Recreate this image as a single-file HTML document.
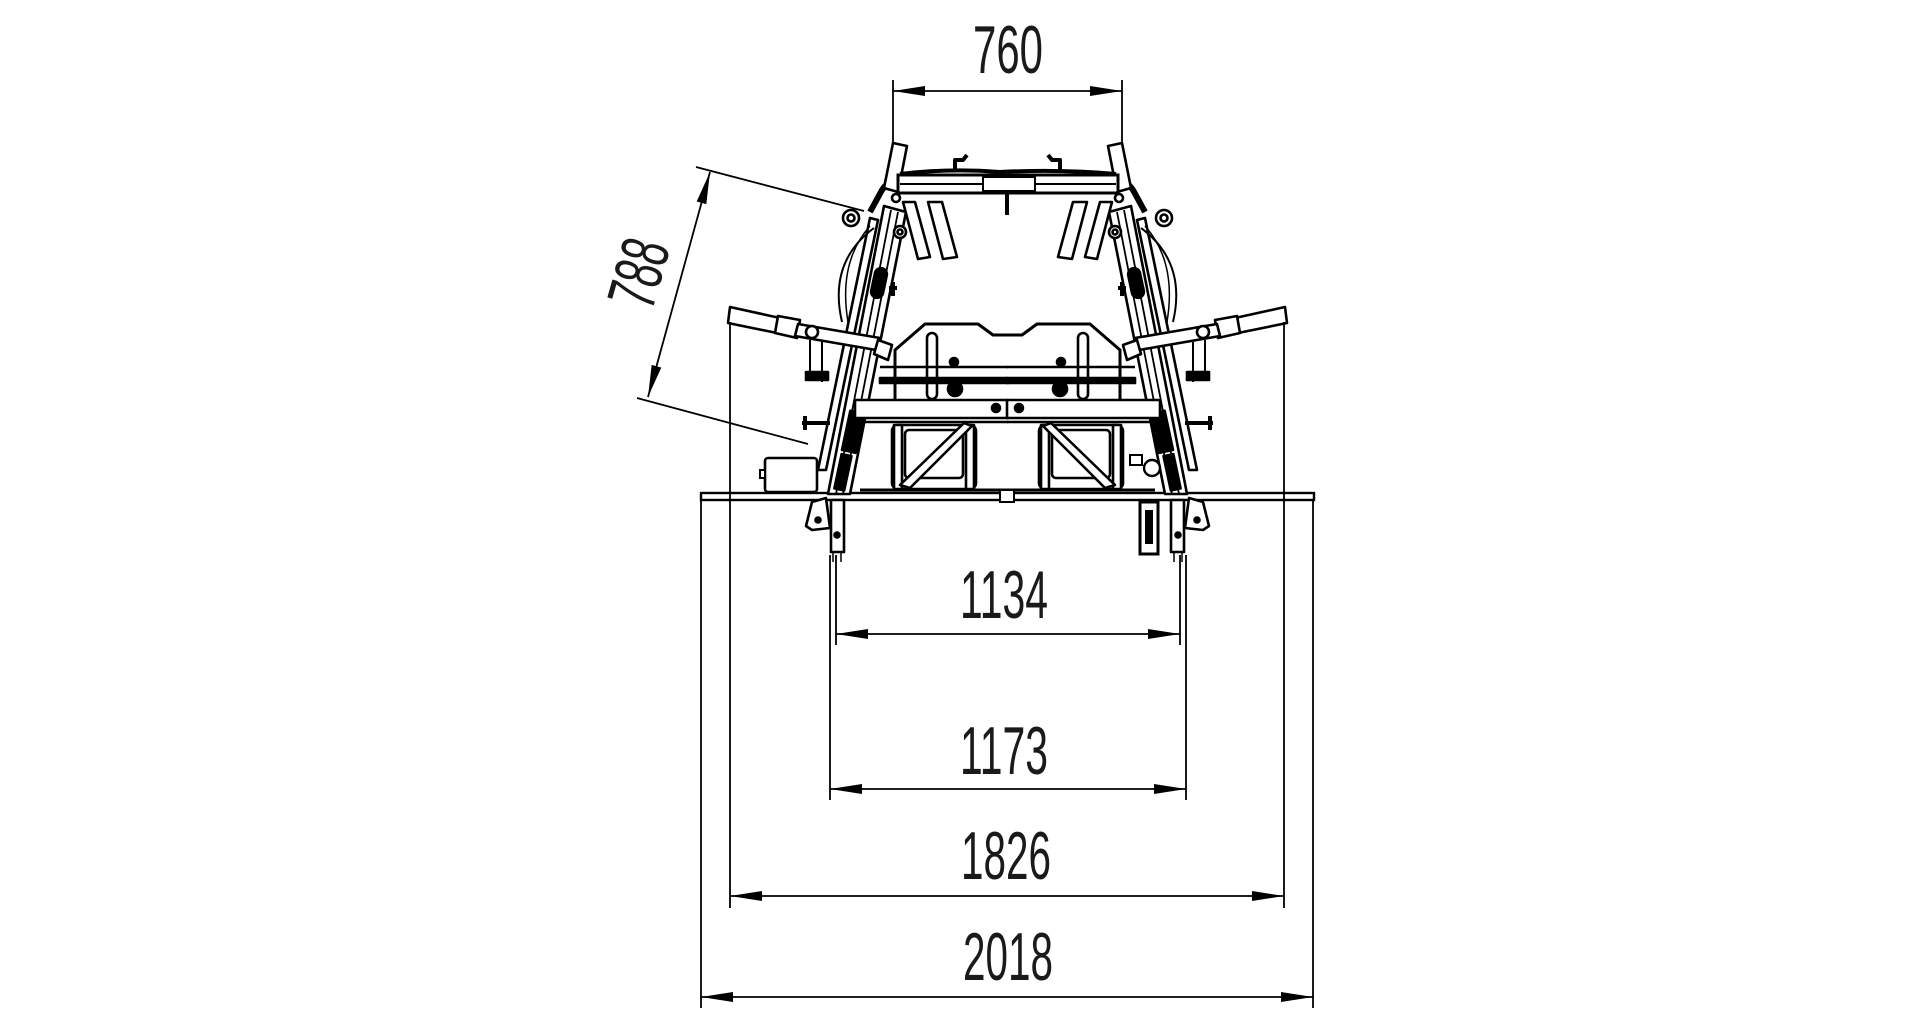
<!DOCTYPE html>
<html><head><meta charset="utf-8"><style>
html,body{margin:0;padding:0;background:#fff;}
svg{display:block;}
text{font-family:"Liberation Sans",sans-serif;fill:#1a1a1a;}
</style></head><body>
<svg width="1920" height="1024" viewBox="0 0 1920 1024" xmlns="http://www.w3.org/2000/svg">
<defs>
<g id="half" fill="#fff" stroke="#000" stroke-width="2.6" stroke-linejoin="round">
  <polygon points="828,494 850,494 906,212 884,206"/>
  <line x1="836" y1="494" x2="891" y2="210" stroke-width="1.8"/>
  <line x1="843" y1="494" x2="898" y2="212" stroke-width="1.8"/>
  <polygon points="818,470 826,470 878,220 870,218"/>
  <path d="M874,228 Q828,262 842,322" fill="none" stroke-width="2"/>
  <path d="M870,226 Q838,262 848,322" fill="none" stroke-width="1.5"/>
  <path d="M870,212 L882,190 Q892,176 904,176" fill="none" stroke-width="6"/>
  <polygon points="893,143 907,146 898,192 884,188"/>
  <rect x="873" y="268" width="12" height="30" rx="6" fill="#000" transform="rotate(12 879 283)"/>
  <rect x="846" y="412" width="14" height="40" fill="#000" transform="rotate(12 854 432)"/>
  <rect x="838" y="455" width="10" height="35" fill="#000" transform="rotate(12 844 472)"/>
  <circle cx="851" cy="218" r="8"/><circle cx="851" cy="218" r="3.5"/>
  <circle cx="900" cy="232" r="6"/><circle cx="900" cy="232" r="2.5"/>
  <circle cx="896" cy="198" r="4"/>
  <path d="M889,288 h8 M893,282 v14" stroke-width="4"/>
  <path d="M802,423 h28 M805,416 v14" stroke-width="4"/>
  <polygon points="903,202 915,202 930,257 918,259"/>
  <polygon points="928,202 942,202 957,257 943,259"/>
  <polygon points="730,307 780,318 777,333 728,323"/>
  <polygon points="778,316 800,320 797,338 775,333"/>
  <polygon points="798,324 880,338 876,350 795,336"/>
  <circle cx="812" cy="332" r="6"/>
  <path d="M810,340 v40 M822,342 v40" stroke-width="2"/>
  <rect x="806" y="372" width="22" height="8" fill="#000"/>
  <polygon points="878,340 892,345 888,360 874,354"/>
  <path d="M1008,335 L993,335 L978,324 L925,324 L895,350 L895,400" fill="none" stroke-width="3"/>
  <rect x="927" y="333" width="10" height="66" rx="5"/>
  <line x1="880" y1="367" x2="1008" y2="367"/>
  <rect x="880" y="378" width="128" height="5" fill="#000"/>
  <circle cx="955" cy="389" r="7" fill="#000"/>
  <circle cx="954" cy="362" r="4" fill="#000"/>
  <rect x="855" y="400" width="153" height="18"/>
  <circle cx="996" cy="408" r="4" fill="#000"/>
  <line x1="860" y1="422" x2="1008" y2="422"/>
  <rect x="892" y="425" width="84" height="64" rx="6"/>
  <rect x="905" y="430" width="58" height="48" rx="4"/>
  <rect x="894" y="425" width="8" height="64"/>
  <rect x="966" y="425" width="8" height="64"/>
  <polygon points="900,485 910,488 972,426 964,423"/>
  <line x1="860" y1="490" x2="1008" y2="490" stroke-width="3"/>
  <rect x="831" y="500" width="13" height="52"/>
  <circle cx="837" cy="535" r="2.5" fill="#000"/>
  <line x1="833" y1="552" x2="833" y2="562" stroke-width="1.5"/>
  <line x1="841" y1="552" x2="841" y2="562" stroke-width="1.5"/>
  <polygon points="812,502 826,498 830,528 812,530 806,526"/>
  <circle cx="818" cy="520" r="2.5" fill="#000"/>
  <path d="M955,172 v-12 h8 l4,-5" fill="none" stroke-width="4"/>
</g>
<marker id="a" markerWidth="34" markerHeight="12" refX="0" refY="6" orient="auto" markerUnits="userSpaceOnUse"><path d="M0,6 L32,1 L32,11 Z" fill="#000"/></marker>
<marker id="b" markerWidth="34" markerHeight="12" refX="32" refY="6" orient="auto" markerUnits="userSpaceOnUse"><path d="M32,6 L0,1 L0,11 Z" fill="#000"/></marker>
</defs>

<rect x="701" y="493" width="613" height="7" fill="#fff" stroke="#000" stroke-width="2.4"/>
<use href="#half"/>
<use href="#half" transform="translate(2015,0) scale(-1,1)"/>
<!-- motor box (left only) -->
<rect x="765" y="458" width="52" height="34" rx="3" fill="#fff" stroke="#000" stroke-width="2.6"/>
<rect x="760" y="470" width="5" height="8" fill="#fff" stroke="#000" stroke-width="2"/>
<!-- right small parts -->
<circle cx="1152" cy="468" r="8" fill="#fff" stroke="#000" stroke-width="2.4"/>
<rect x="1130" y="455" width="12" height="10" fill="#fff" stroke="#000" stroke-width="2"/>
<rect x="898" y="175" width="220" height="18" fill="#fff" stroke="#000" stroke-width="3"/>
<line x1="900" y1="184" x2="1116" y2="184" stroke="#000" stroke-width="2"/>
<rect x="983" y="177" width="52" height="14" fill="#fff" stroke="#000" stroke-width="2"/>
<path d="M900,174 q50,-6 100,-2 q60,-3 116,2" fill="none" stroke="#000" stroke-width="4"/>
<line x1="1007" y1="193" x2="1007" y2="215" stroke="#000" stroke-width="4"/>
<rect x="1000" y="490" width="14" height="12" fill="#fff" stroke="#000" stroke-width="2"/>
<circle cx="1020" cy="408" r="4" fill="#000"/>
<rect x="1140" y="502" width="18" height="52" fill="#fff" stroke="#000" stroke-width="3"/>
<rect x="1145" y="510" width="8" height="34" fill="#000"/>

<g stroke="#000" stroke-width="1.8" fill="none">
  <line x1="893" y1="80" x2="893" y2="143"/>
  <line x1="1122" y1="80" x2="1122" y2="143"/>
  <line x1="893" y1="91" x2="1122" y2="91" marker-start="url(#a)" marker-end="url(#b)"/>
  <line x1="696" y1="167" x2="864" y2="211"/>
  <line x1="637" y1="398" x2="808" y2="444"/>
  <line x1="710" y1="172" x2="648" y2="397" marker-start="url(#a)" marker-end="url(#b)"/>
  <line x1="836" y1="555" x2="836" y2="645"/>
  <line x1="1180" y1="555" x2="1180" y2="645"/>
  <line x1="836" y1="634" x2="1180" y2="634" marker-start="url(#a)" marker-end="url(#b)"/>
  <line x1="830" y1="555" x2="830" y2="800"/>
  <line x1="1186" y1="555" x2="1186" y2="800"/>
  <line x1="830" y1="789" x2="1186" y2="789" marker-start="url(#a)" marker-end="url(#b)"/>
  <line x1="730" y1="322" x2="730" y2="908"/>
  <line x1="1284" y1="322" x2="1284" y2="908"/>
  <line x1="730" y1="896" x2="1284" y2="896" marker-start="url(#a)" marker-end="url(#b)"/>
  <line x1="701" y1="500" x2="701" y2="1008"/>
  <line x1="1313" y1="500" x2="1313" y2="1008"/>
  <line x1="701" y1="997" x2="1313" y2="997" marker-start="url(#a)" marker-end="url(#b)"/>
</g>

<g font-size="68" text-anchor="middle">
  <text x="1008" y="73" textLength="70" lengthAdjust="spacingAndGlyphs">760</text>
  <text x="1004" y="618" textLength="88" lengthAdjust="spacingAndGlyphs">1134</text>
  <text x="1004" y="774" textLength="88" lengthAdjust="spacingAndGlyphs">1173</text>
  <text x="1006" y="879" textLength="90" lengthAdjust="spacingAndGlyphs">1826</text>
  <text x="1008" y="980" textLength="90" lengthAdjust="spacingAndGlyphs">2018</text>
  <text transform="translate(638,273) rotate(-74)" x="0" y="24" textLength="68" lengthAdjust="spacingAndGlyphs">788</text>
</g>
</svg>
</body></html>
